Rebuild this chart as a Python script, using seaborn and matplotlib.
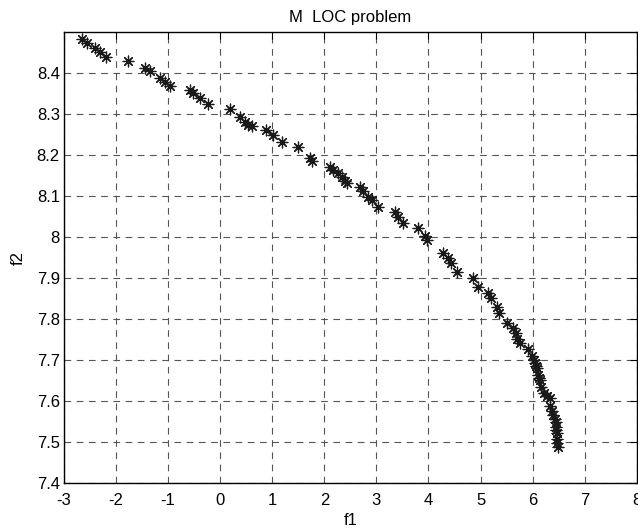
import numpy as np
import pandas as pd
import matplotlib
matplotlib.use("Agg")
import matplotlib.pyplot as plt
import seaborn as sns

# Frente de Pareto
f1 = [-2.65, -2.56, -2.40, -2.31, -2.19, -1.77, -1.45, -1.35, -1.16, -1.06,
      -0.97, -0.58, -0.52, -0.39, -0.24, 0.19, 0.38, 0.47, 0.53, 0.61,
      0.88, 1.01, 1.18, 1.49, 1.72, 1.76, 2.11, 2.16, 2.26, 2.34,
      2.39, 2.43, 2.68, 2.74, 2.83, 2.91, 3.03, 3.35, 3.41, 3.51,
      3.79, 3.93, 3.97, 4.27, 4.37, 4.43, 4.54, 4.85, 4.95, 5.14,
      5.21, 5.31, 5.35, 5.50, 5.62, 5.69, 5.71, 5.75, 5.91, 5.98,
      6.02, 6.04, 6.06, 6.08, 6.10, 6.12, 6.14, 6.17, 6.21, 6.28,
      6.33, 6.34, 6.38, 6.40, 6.43, 6.44, 6.44, 6.45, 6.46, 6.46,
      6.47, 6.48]
f2 = [8.483, 8.473, 8.461, 8.451, 8.439, 8.429, 8.412, 8.405, 8.388, 8.378,
      8.368, 8.359, 8.351, 8.339, 8.324, 8.312, 8.293, 8.281, 8.273, 8.270,
      8.261, 8.249, 8.232, 8.220, 8.193, 8.185, 8.171, 8.163, 8.156, 8.146,
      8.137, 8.132, 8.122, 8.112, 8.098, 8.090, 8.073, 8.061, 8.049, 8.034,
      8.022, 8.002, 7.993, 7.961, 7.949, 7.937, 7.915, 7.900, 7.878, 7.863,
      7.851, 7.829, 7.815, 7.790, 7.778, 7.766, 7.751, 7.742, 7.727, 7.710,
      7.700, 7.693, 7.686, 7.680, 7.663, 7.657, 7.651, 7.634, 7.619, 7.612,
      7.607, 7.588, 7.575, 7.566, 7.556, 7.549, 7.537, 7.530, 7.522, 7.507,
      7.498, 7.488]

xticks = list(range(-3, 9))
yticks = [7.4, 7.5, 7.6, 7.7, 7.8, 7.9, 8.0, 8.1, 8.2, 8.3, 8.4]
ytick_labels = ["7.4", "7.5", "7.6", "7.7", "7.8", "7.9", "8", "8.1", "8.2", "8.3", "8.4"]

df = pd.DataFrame({"f1": f1, "f2": f2})

sns.set_style("white")
plt.rcParams["font.family"] = ["Liberation Sans", "DejaVu Sans"]
plt.rcParams["text.color"] = "black"
plt.rcParams["axes.labelcolor"] = "black"

fig = plt.figure(figsize=(6.38, 5.3), dpi=100)
ax = fig.add_axes([0.1003, 0.0887, 0.8977, 0.8509])

sns.scatterplot(
    data=df, x="f1", y="f2",
    marker=(8, 2, 0),
    s=60,
    color="#1a1a1a",
    linewidth=0.9,
    ax=ax
)

ax.set_xlim(-3, 8)
ax.set_ylim(7.4, 8.5)
ax.set_xticks(xticks)
ax.set_xticklabels([str(t) for t in xticks])
ax.set_yticks(yticks)
ax.set_yticklabels(ytick_labels)

ax.grid(True, color="#555555", linestyle=(0, (6, 5)), linewidth=0.8)
ax.tick_params(direction="in", length=5, top=True, right=True,
               labelsize=12, colors="black")
ax.tick_params(axis="x", pad=7)
ax.tick_params(axis="y", pad=3)
for s in ax.spines.values():
    s.set_color("black")
    s.set_linewidth(1.0)

ax.set_title("M  LOC problem", fontsize=12, pad=7, color="black")
ax.set_xlabel("f1", fontsize=12, labelpad=4, color="black")
ax.set_ylabel("f2", fontsize=12, labelpad=8, color="black")

fig.savefig("out.png", dpi=100)
